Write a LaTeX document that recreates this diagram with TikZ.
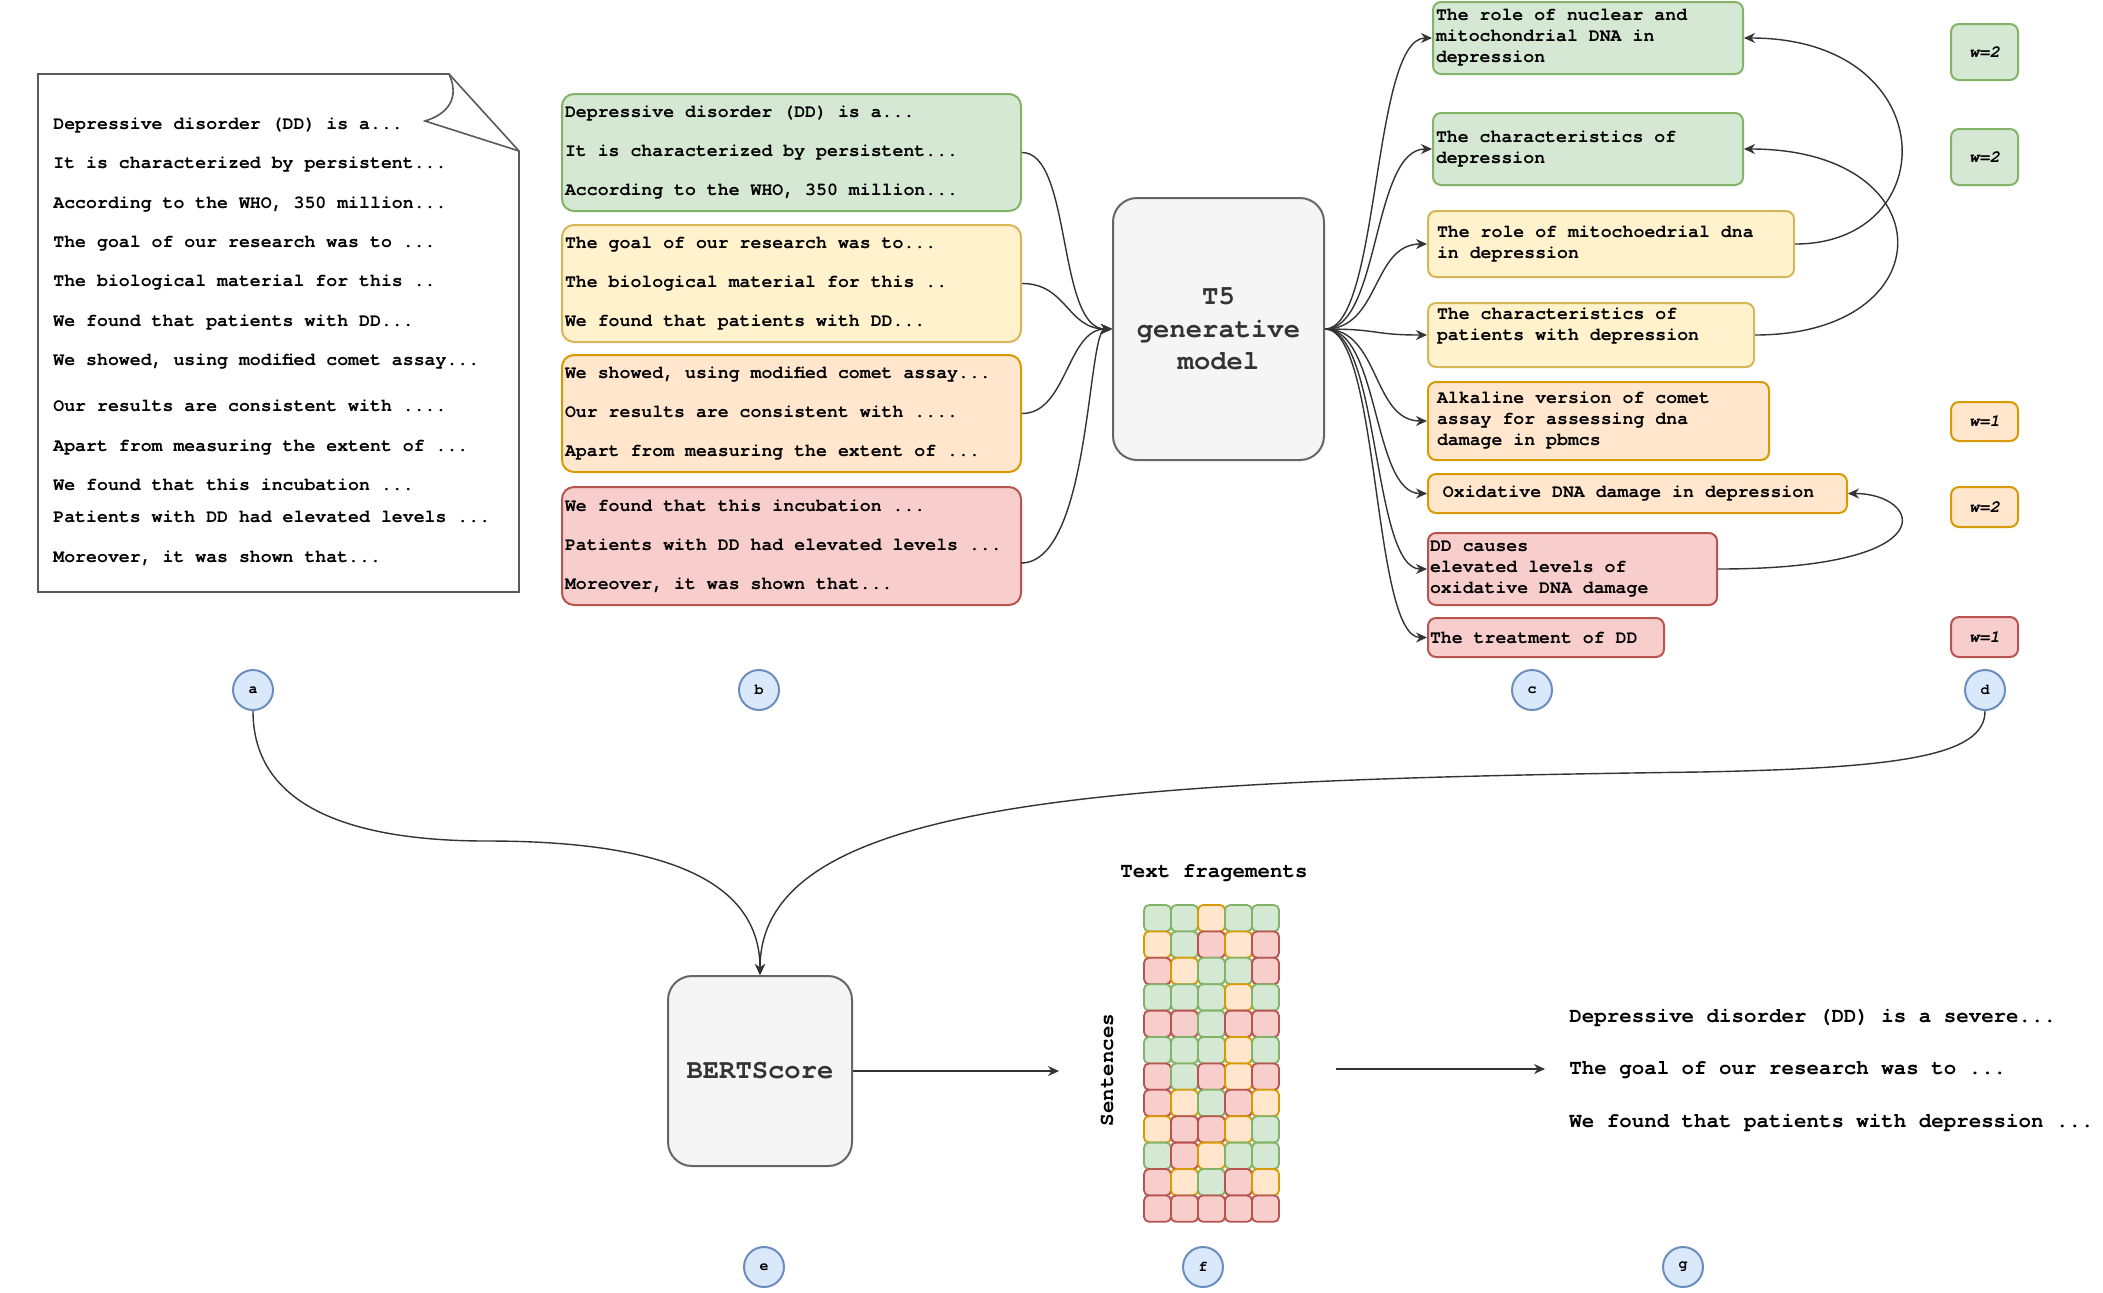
\documentclass[tikz,border=0pt]{standalone}
\usepackage{fontspec}
\setmonofont{TeX Gyre Cursor}
\usetikzlibrary{arrows.meta,calc}
\definecolor{GF}{HTML}{D5E8D4}\definecolor{GL}{HTML}{82B366}
\definecolor{YF}{HTML}{FFF2CC}\definecolor{YL}{HTML}{D6B656}
\definecolor{OF}{HTML}{FFE6CC}\definecolor{OL}{HTML}{D79B00}
\definecolor{RF}{HTML}{F8CECC}\definecolor{RL}{HTML}{B85450}
\definecolor{KF}{HTML}{F5F5F5}\definecolor{KL}{HTML}{666666}\definecolor{KT}{HTML}{333333}
\definecolor{BF}{HTML}{DAE8FC}\definecolor{BL}{HTML}{6C8EBF}
\newcommand{\myfa}{\ttfamily\bfseries\fontsize{9.1pt}{11pt}\selectfont}
\newcommand{\myfb}{\ttfamily\bfseries\fontsize{9.1pt}{19.5pt}\selectfont}
\newcommand{\myfc}{\ttfamily\bfseries\fontsize{9.1pt}{10.5pt}\selectfont}
\newcommand{\myfd}{\ttfamily\bfseries\fontsize{13.6pt}{16.25pt}\selectfont}
\newcommand{\myfe}{\ttfamily\bfseries\itshape\fontsize{8.5pt}{9pt}\selectfont}
\newcommand{\myff}{\ttfamily\bfseries\fontsize{7.5pt}{8pt}\selectfont}
\newcommand{\myfg}{\ttfamily\bfseries\fontsize{10.4pt}{12pt}\selectfont}
\tikzset{
 conn/.style={draw=black!80, line width=0.7pt, -{Stealth[length=5.5pt,width=5pt,inset=1.8pt]}},
 gcol/.style={fill=GF,draw=GL}, ycol/.style={fill=YF,draw=YL},
 ocol/.style={fill=OF,draw=OL}, rcol/.style={fill=RF,draw=RL},
 dtxt/.style={anchor=mid west, inner sep=0pt, font=\myfa},
 gtxt/.style={anchor=mid west, inner sep=0pt, font=\myfg},
 bbox/.style={rounded corners=6pt, line width=1pt, inner xsep=1.5pt, inner ysep=0pt, text width=226.5pt, minimum height=58.5pt, align=flush left, font=\myfb},
 rbox/.style={rounded corners=4pt, line width=1pt, inner ysep=0pt, align=flush left, font=\myfc},
 kbox/.style={rounded corners=12pt, line width=1pt, fill=KF, draw=KL, text=KT, align=center, font=\myfd},
 wbox/.style={rounded corners=4pt, line width=1pt, minimum width=33.5pt, inner sep=0pt, font=\myfe},
 lbl/.style={circle, minimum size=20pt, inner sep=0pt, fill=BF, draw=BL, line width=1pt, font=\myff},
 cell/.style={rounded corners=2.5pt, line width=0.9pt},
 docline/.style={line width=0.8pt, draw=black!65},
}
\begin{document}
\begin{tikzpicture}[x=0.5pt,y=-0.5pt]
\fill[white] (0,0) rectangle (2103,1292);
\useasboundingbox (0,0) rectangle (2103,1292);

% ---- (a) document
\draw[docline, fill=white] (38,74) -- (449,74) -- (519,151) -- (519,592) -- (38,592) -- cycle;
\draw[docline] (449,74) .. controls (460,98) and (448,114) .. (425,121) -- (519,151);
\node[dtxt] (a1) at (53,125) {Depressive disorder (DD) is a...};
\node[dtxt] (a2) at (53,164.5) {It is characterized by persistent...};
\node[dtxt] (a3) at (53,204) {According to the WHO, 350 million...};
\node[dtxt] (a4) at (53,243.5) {The goal of our research was to ...};
\node[dtxt] (a5) at (53,282.5) {The biological material for this ..};
\node[dtxt] (a6) at (53,322) {We found that patients with DD...};
\node[dtxt] (a7) at (53,361.5) {We showed, using modified comet assay...};
\node[dtxt] (a8) at (53,407) {Our results are consistent with ....};
\node[dtxt] (a9) at (53,447) {Apart from measuring the extent of ...};
\node[dtxt] (a10) at (53,486) {We found that this incubation ...};
\node[dtxt] (a11) at (53,518) {Patients with DD had elevated levels ...};
\node[dtxt] (a12) at (53,558) {Moreover, it was shown that...};

% ---- (b) grouped sentences
\node[bbox,gcol] (bG) at (791.5,152.5) {Depressive disorder (DD) is a...\\It is characterized by persistent...\\According to the WHO, 350 million...};
\node[bbox,ycol] (bY) at (791.5,283.5) {The goal of our research was to...\\The biological material for this ..\\We found that patients with DD...};
\node[bbox,ocol] (bO) at (791.5,413.5) {We showed, using modified comet assay...\\Our results are consistent with ....\\Apart from measuring the extent of ...};
\node[bbox,rcol,minimum height=59pt] (bR) at (791.5,546) {We found that this incubation ...\\Patients with DD had elevated levels ...\\Moreover, it was shown that...};
\coordinate (redout) at (1021,563);

% ---- T5
\node[kbox, minimum width=105.5pt, minimum height=131pt] (t5) at (1218.5,329) {T5\\generative\\model};

% ---- (c) generated titles
\node[rbox,gcol,inner xsep=1.5pt,text width=152pt,minimum height=36pt] (c1) at (1588,38) {The role of nuclear and\\mitochondrial DNA in\\depression};
\node[rbox,gcol,inner xsep=1.5pt,text width=152pt,minimum height=36pt] (c2) at (1588,149) {The characteristics of\\depression};
\node[rbox,ycol,inner xsep=4.5pt,text width=174pt,minimum height=33pt] (c3) at (1611,244) {The role of mitochoedrial dna\\in depression};
\node[rbox,ycol,inner xsep=4.5pt,text width=154pt,minimum height=32pt] (c4) at (1591,335) {The characteristics of\\patients with depression\\\mbox{}};
\node[rbox,ocol,inner xsep=4.5pt,text width=161.5pt,minimum height=39pt] (c5) at (1598.5,421) {Alkaline version of comet\\assay for assessing dna\\damage in pbmcs};
\node[rbox,ocol,inner xsep=2pt,text width=205.5pt,minimum height=19.5pt] (c6) at (1637.5,493.5) {\phantom{x}Oxidative DNA damage in depression};
\node[rbox,rcol,inner xsep=1pt,text width=142.5pt,minimum height=36pt] (c7) at (1572.5,569) {DD causes\\elevated levels of\\oxidative DNA damage};
\node[rbox,rcol,inner xsep=1pt,text width=116pt,minimum height=19.5pt] (c8) at (1546,637.5) {The treatment of DD};

% ---- (d) weights
\node[wbox,gcol,minimum height=28pt] (w1) at (1984.5,52) {w=2};
\node[wbox,gcol,minimum height=28pt] (w2) at (1984.5,157) {w=2};
\node[wbox,ocol,minimum height=19.5pt] (w3) at (1984.5,421.5) {w=1};
\node[wbox,ocol,minimum height=20pt] (w4) at (1984.5,507) {w=2};
\node[wbox,rcol,minimum height=20pt] (w5) at (1984.5,637) {w=1};

% ---- labels
\node[lbl] (la) at (253,690) {a};
\node[lbl] (lb) at (759,690) {b};
\node[lbl] (lc) at (1532,690) {c};
\node[lbl] (ld) at (1985,690) {d};
\node[lbl] (le) at (764,1267) {e};
\node[lbl] (lf) at (1203,1267) {f};
\node[lbl] (lg) at (1683,1267) {g};

% ---- BERTScore
\node[kbox, minimum width=92pt, minimum height=95pt] (bert) at (760,1071) {BERTScore};

% ---- (f) grid
\node[font=\myfg, inner sep=0pt] (tf) at (1214,873) {Text fragements};
\node[font=\myfg, inner sep=0pt, rotate=90] (sent) at (1107,1070) {Sentences};
\foreach \row [count=\r from 0] in {{G,G,O,G,G},{O,G,R,O,R},{R,O,G,G,R},{G,G,G,O,G},{R,R,G,R,R},{G,G,G,O,G},{R,G,R,O,R},{R,O,G,R,O},{O,R,R,O,G},{G,R,O,G,G},{R,O,G,R,O},{R,R,R,R,R}}{
  \foreach \c [count=\k from 0] in \row {
    \draw[cell, fill=\c F, draw=\c L] (1144+27*\k,905+26.4*\r) rectangle ++(27,26.4);
  }
}

% ---- (g) output
\node[gtxt] (g1) at (1569,1018) {Depressive disorder (DD) is a severe...};
\node[gtxt] (g2) at (1569,1070) {The goal of our research was to ...};
\node[gtxt] (g3) at (1569,1123) {We found that patients with depression ...};

% ---- connectors
\draw[conn] (bG.east) .. controls +(50,0) and +(-55,0) .. (t5.west);
\draw[conn] (bY.east) .. controls +(45,0) and +(-45,0) .. (t5.west);
\draw[conn] (bO.east) .. controls +(45,0) and +(-45,0) .. (t5.west);
\draw[conn] (redout) .. controls +(70,0) and +(-25,0) .. (t5.west);

\draw[conn] (t5.east) .. controls +(55,0) and +(-60,0) .. (c1.west);
\draw[conn] (t5.east) .. controls +(55,0) and +(-60,0) .. (c2.west);
\draw[conn] (t5.east) .. controls +(55,0) and +(-55,0) .. (c3.west);
\draw[conn] (t5.east) .. controls +(55,0) and +(-55,0) .. (c4.west);
\draw[conn] (t5.east) .. controls +(55,0) and +(-55,0) .. (c5.west);
\draw[conn] (t5.east) .. controls +(55,0) and +(-55,0) .. (c6.west);
\draw[conn] (t5.east) .. controls +(55,0) and +(-55,0) .. (c7.west);
\draw[conn] (t5.east) .. controls +(55,0) and +(-55,0) .. (c8.west);

\draw[conn] (c3.east) .. controls +(150,0) and +(200,0) .. (c1.east);
\draw[conn] (c4.east) .. controls +(191,0) and +(202,0) .. (c2.east);
\draw[conn] (c7.east) .. controls +(233,0) and +(73,0) .. (c6.east);

\coordinate (amid) at (487,841);
\coordinate (dmid) at (1700,772);
\draw[conn] (la.south) .. controls +(0,90) and (340,841) .. (amid) .. controls (640,841) and (760,870) .. (bert.north);
\draw[conn] (ld.south) .. controls +(0,45) and (1900,768) .. (dmid) .. controls (1100,780) and (760,800) .. (bert.north);

\coordinate (bertout) at (1059,1071);
\coordinate (fout) at (1336,1069);
\coordinate (gin) at (1545,1069);
\draw[conn] (bert.east) -- (bertout);
\draw[conn] (fout) -- (gin);
\end{tikzpicture}
\end{document}
